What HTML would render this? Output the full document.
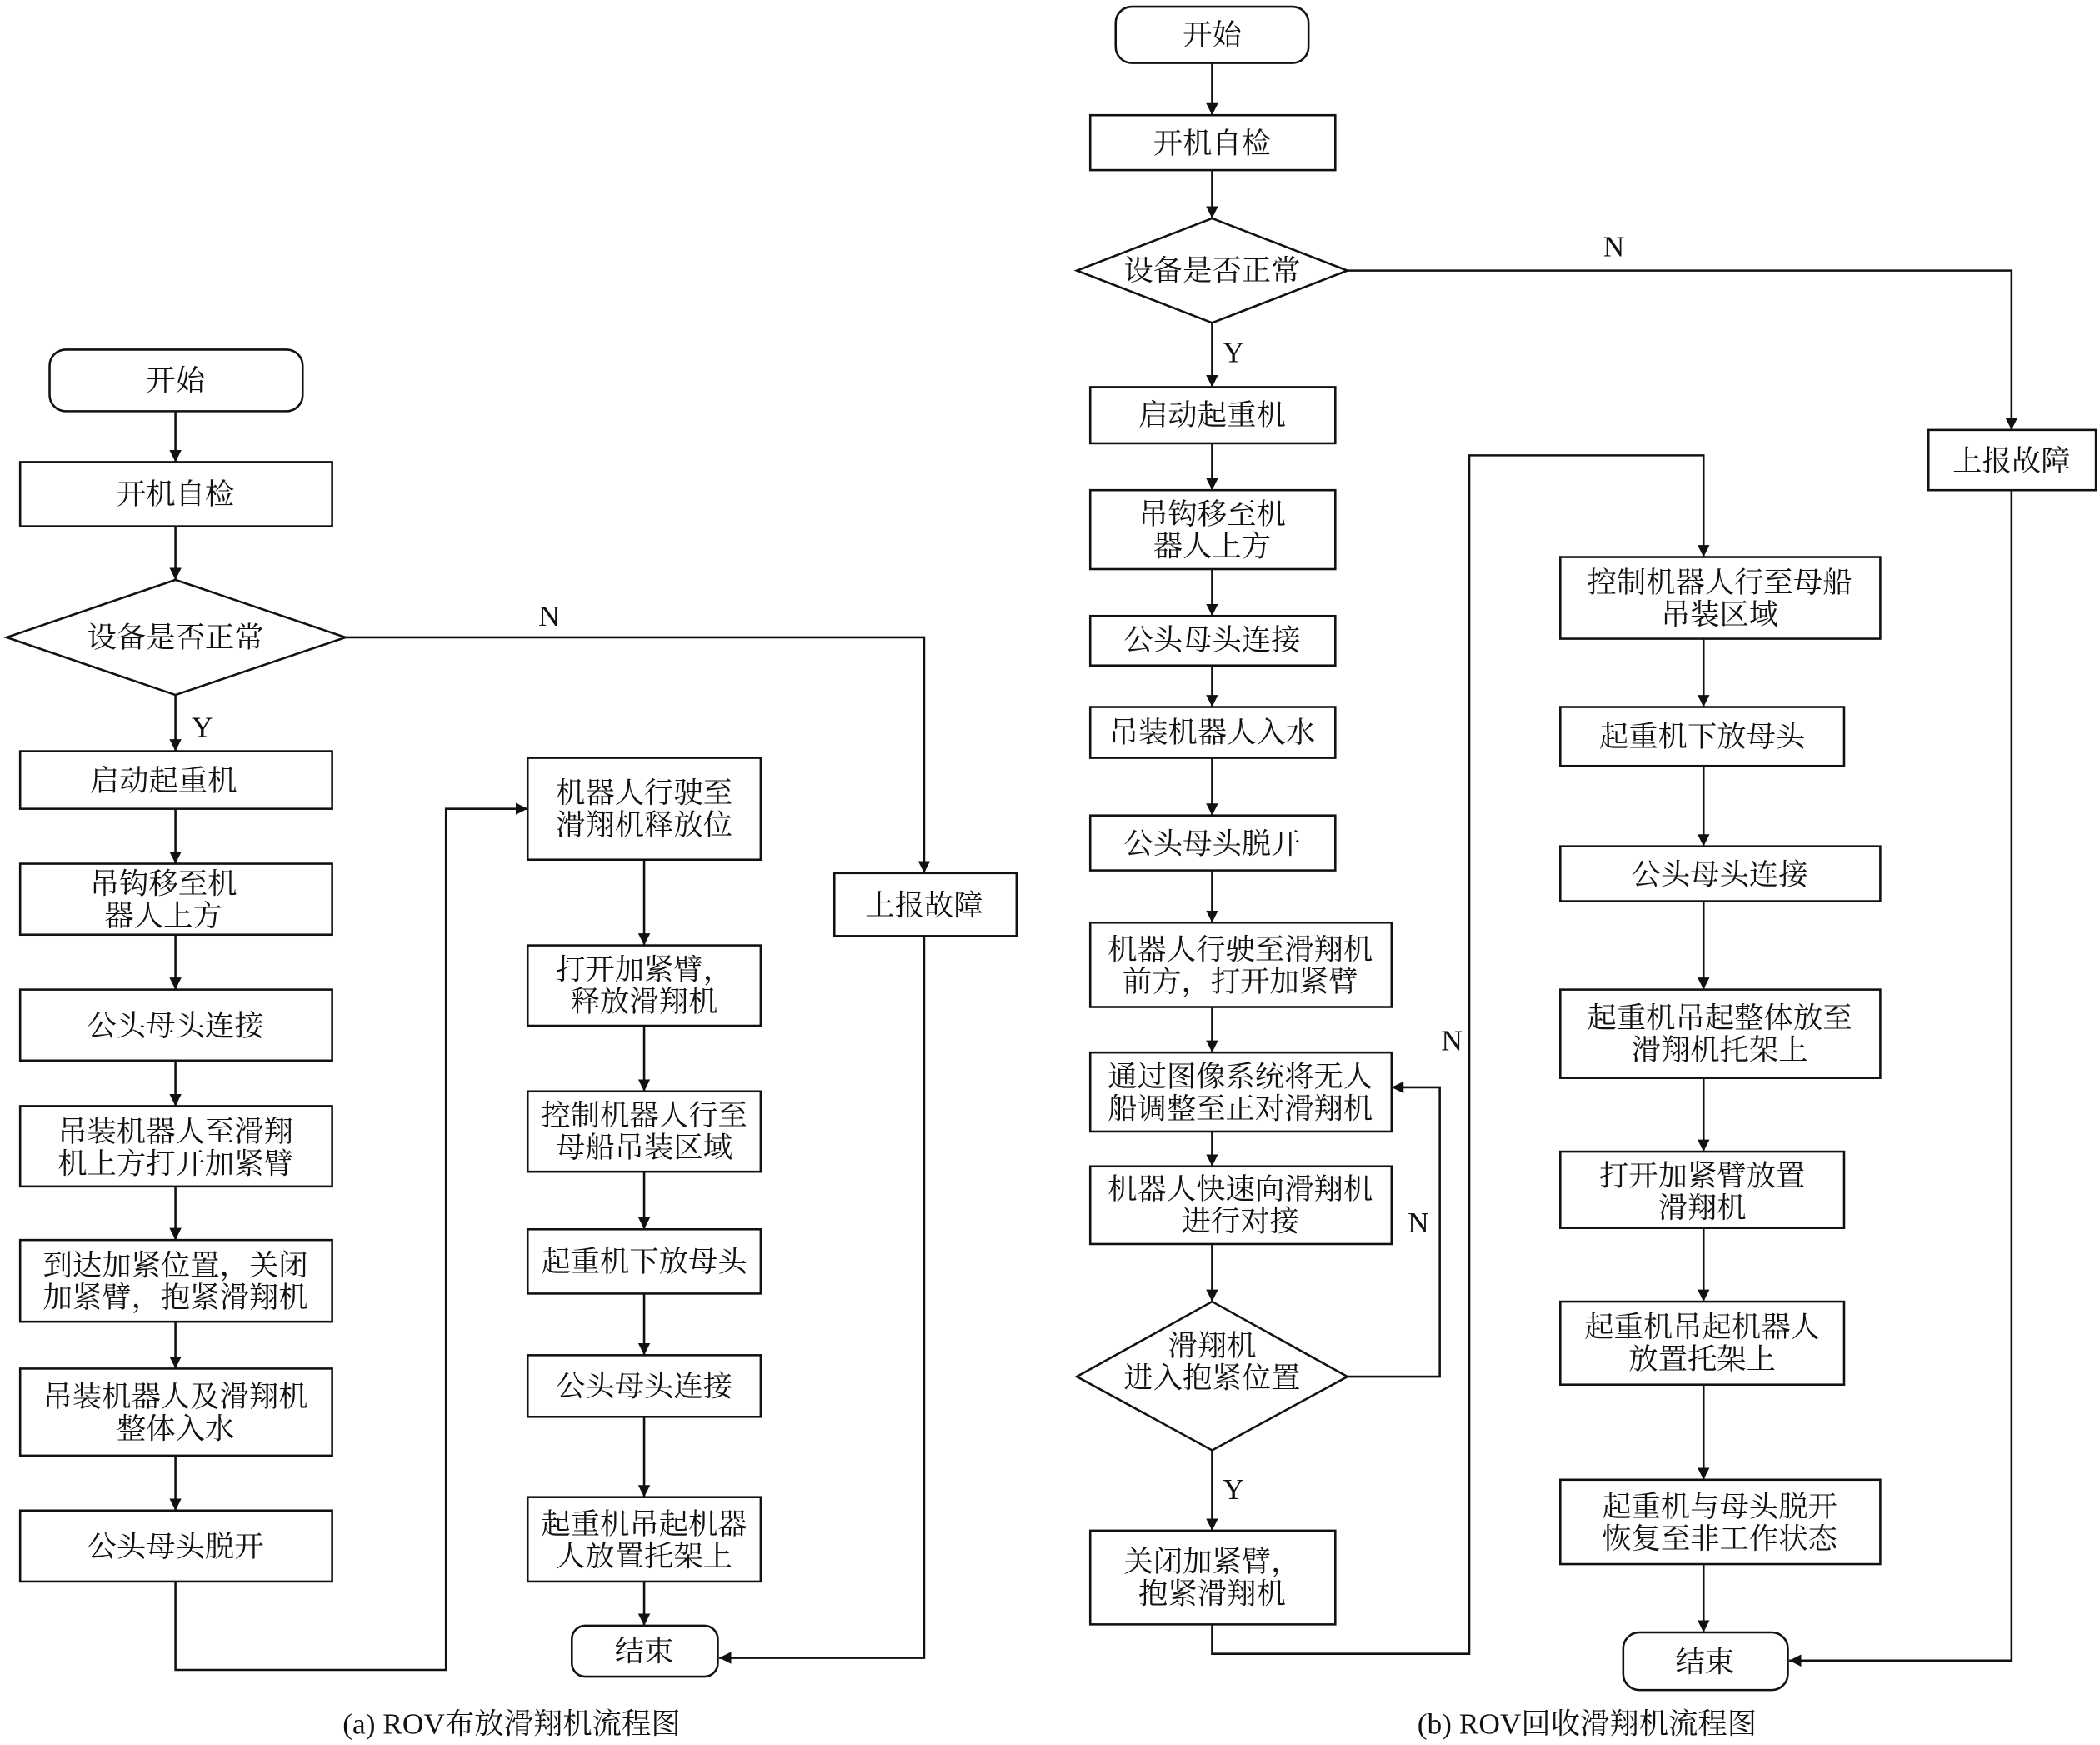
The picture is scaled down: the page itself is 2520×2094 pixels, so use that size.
<!DOCTYPE html>
<html><head><meta charset="utf-8"><style>
html,body{margin:0;padding:0;background:#fff}
svg{display:block}
text{font-family:"Liberation Serif","Noto Serif CJK SC",serif;font-size:22px;fill:#111;text-anchor:middle;dominant-baseline:central}
.b{fill:#fff;stroke:#111;stroke-width:1.6}
.l{fill:none;stroke:#111;stroke-width:1.6}
</style></head><body>
<svg width="2520" height="2094" viewBox="0 0 1568 1303" xmlns="http://www.w3.org/2000/svg">
<defs><marker id="a" viewBox="0 0 10 10" refX="10" refY="5" markerWidth="9" markerHeight="9" markerUnits="userSpaceOnUse" orient="auto"><path d="M0,0L10,5L0,10z" fill="#111"/></marker></defs>

<!-- (a) connectors -->
<g class="l" marker-end="url(#a)">
<path d="M131,307V345"/><path d="M131,393V433"/><path d="M131,519V561"/>
<path d="M131,604V645"/><path d="M131,698V739"/><path d="M131,792V826"/>
<path d="M131,886V926"/><path d="M131,987V1022"/><path d="M131,1087V1128"/>
<path d="M258,476H690V652"/><path d="M690,699V1238H537"/>
<path d="M131,1181V1247H333V604H394"/>
<path d="M481,642V706"/><path d="M481,766V815"/><path d="M481,875V918"/>
<path d="M481,966V1012"/><path d="M481,1058V1118"/><path d="M481,1181V1214"/>
</g>
<!-- (a) nodes -->
<rect class="b" x="37" y="261" width="189" height="46" rx="12"/><text x="131" y="284">开始</text>
<rect class="b" x="15" y="345" width="233" height="48"/><text x="131" y="369">开机自检</text>
<path class="b" d="M131,433L258,476L131,519L5,476z"/><text x="131" y="476">设备是否正常</text>
<text x="410" y="460">N</text><text x="151" y="543">Y</text>
<rect class="b" x="15" y="561" width="233" height="43"/><text x="122" y="583">启动起重机</text>
<rect class="b" x="15" y="645" width="233" height="53"/><text x="122" y="660">吊钩移至机</text><text x="122" y="684">器人上方</text>
<rect class="b" x="15" y="739" width="233" height="53"/><text x="131" y="766">公头母头连接</text>
<rect class="b" x="15" y="826" width="233" height="60"/><text x="131" y="845">吊装机器人至滑翔</text><text x="131" y="869">机上方打开加紧臂</text>
<rect class="b" x="15" y="926" width="233" height="61"/><text x="131" y="945">到达加紧位置，关闭</text><text x="131" y="969">加紧臂，抱紧滑翔机</text>
<rect class="b" x="15" y="1022" width="233" height="65"/><text x="131" y="1043">吊装机器人及滑翔机</text><text x="131" y="1067">整体入水</text>
<rect class="b" x="15" y="1128" width="233" height="53"/><text x="131" y="1155">公头母头脱开</text>
<rect class="b" x="394" y="566" width="174" height="76"/><text x="481" y="592">机器人行驶至</text><text x="481" y="616">滑翔机释放位</text>
<rect class="b" x="394" y="706" width="174" height="60"/><text x="481" y="724">打开加紧臂，</text><text x="481" y="748">释放滑翔机</text>
<rect class="b" x="394" y="815" width="174" height="60"/><text x="481" y="833">控制机器人行至</text><text x="481" y="857">母船吊装区域</text>
<rect class="b" x="394" y="918" width="174" height="48"/><text x="481" y="942">起重机下放母头</text>
<rect class="b" x="394" y="1012" width="174" height="46"/><text x="481" y="1035">公头母头连接</text>
<rect class="b" x="394" y="1118" width="174" height="63"/><text x="481" y="1138">起重机吊起机器</text><text x="481" y="1162">人放置托架上</text>
<rect class="b" x="427" y="1214" width="109" height="38" rx="10"/><text x="481" y="1233">结束</text>
<text x="382" y="1287">(a) ROV布放滑翔机流程图</text>

<!-- (b) connectors -->
<g class="l" marker-end="url(#a)">
<path d="M905,47V86"/><path d="M905,127V163"/><path d="M905,241V289"/>
<path d="M905,331V366"/><path d="M905,425V460"/><path d="M905,497V528"/>
<path d="M905,566V609"/><path d="M905,650V689"/><path d="M905,752V786"/>
<path d="M905,845V871"/><path d="M905,929V972"/><path d="M905,1083V1143"/>
<path d="M1006,202H1502V321"/><path d="M1502,366V1240H1336"/>
<path d="M1006,1028H1075V812H1039"/>
<path d="M905,1213V1235H1097V340H1272V416"/>
<path d="M1272,477V528"/><path d="M1272,572V632"/><path d="M1272,673V739"/>
<path d="M1272,805V860"/><path d="M1272,917V972"/><path d="M1272,1034V1105"/>
<path d="M1272,1168V1219"/>
</g>
<!-- (b) nodes -->
<rect class="b" x="833" y="5" width="144" height="42" rx="12"/><text x="905" y="26">开始</text>
<rect class="b" x="814" y="86" width="183" height="41"/><text x="905" y="107">开机自检</text>
<path class="b" d="M905,163L1006,202L905,241L804,202z"/><text x="905" y="202">设备是否正常</text>
<text x="1205" y="184">N</text><text x="921" y="263">Y</text>
<rect class="b" x="1440" y="321" width="125" height="45"/><text x="1502" y="344">上报故障</text>
<rect class="b" x="814" y="289" width="183" height="42"/><text x="905" y="310">启动起重机</text>
<rect class="b" x="814" y="366" width="183" height="59"/><text x="905" y="384">吊钩移至机</text><text x="905" y="408">器人上方</text>
<rect class="b" x="814" y="460" width="183" height="37"/><text x="905" y="478">公头母头连接</text>
<rect class="b" x="814" y="528" width="183" height="38"/><text x="905" y="547">吊装机器人入水</text>
<rect class="b" x="814" y="609" width="183" height="41"/><text x="905" y="630">公头母头脱开</text>
<rect class="b" x="814" y="689" width="225" height="63"/><text x="926" y="709">机器人行驶至滑翔机</text><text x="926" y="733">前方，打开加紧臂</text>
<rect class="b" x="814" y="786" width="225" height="59"/><text x="926" y="804">通过图像系统将无人</text><text x="926" y="828">船调整至正对滑翔机</text>
<rect class="b" x="814" y="871" width="225" height="58"/><text x="926" y="888">机器人快速向滑翔机</text><text x="926" y="912">进行对接</text>
<path class="b" d="M905,972L1006,1028L905,1083L804,1028z"/><text x="905" y="1005">滑翔机</text><text x="905" y="1029">进入抱紧位置</text>
<text x="1084" y="777">N</text><text x="1059" y="913">N</text><text x="921" y="1112">Y</text>
<rect class="b" x="814" y="1143" width="183" height="70"/><text x="905" y="1166">关闭加紧臂，</text><text x="905" y="1190">抱紧滑翔机</text>
<rect class="b" x="1165" y="416" width="239" height="61"/><text x="1284" y="435">控制机器人行至母船</text><text x="1284" y="459">吊装区域</text>
<rect class="b" x="1165" y="528" width="212" height="44"/><text x="1271" y="550">起重机下放母头</text>
<rect class="b" x="1165" y="632" width="239" height="41"/><text x="1284" y="653">公头母头连接</text>
<rect class="b" x="1165" y="739" width="239" height="66"/><text x="1284" y="760">起重机吊起整体放至</text><text x="1284" y="784">滑翔机托架上</text>
<rect class="b" x="1165" y="860" width="212" height="57"/><text x="1271" y="878">打开加紧臂放置</text><text x="1271" y="902">滑翔机</text>
<rect class="b" x="1165" y="972" width="212" height="62"/><text x="1271" y="991">起重机吊起机器人</text><text x="1271" y="1015">放置托架上</text>
<rect class="b" x="1165" y="1105" width="239" height="63"/><text x="1284" y="1125">起重机与母头脱开</text><text x="1284" y="1149">恢复至非工作状态</text>
<rect class="b" x="1212" y="1219" width="123" height="43" rx="12"/><text x="1273" y="1241">结束</text>
<rect class="b" x="623" y="652" width="136" height="47"/><text x="690" y="676">上报故障</text>
<text x="1185" y="1287">(b) ROV回收滑翔机流程图</text>
</svg>
</body></html>
